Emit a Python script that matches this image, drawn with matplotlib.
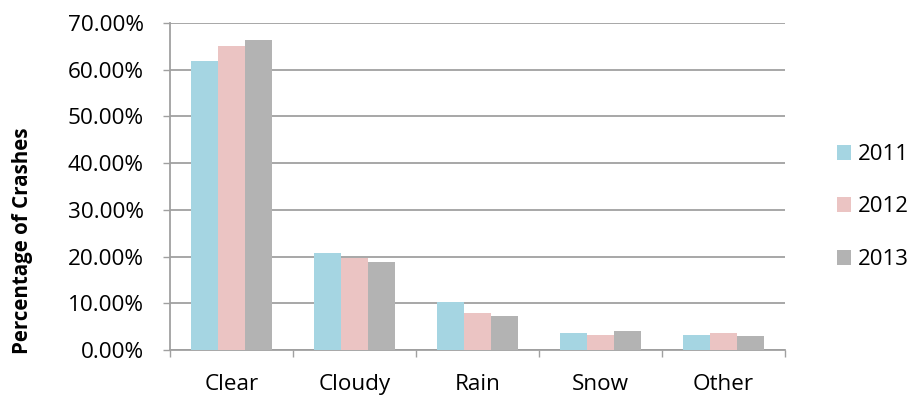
import matplotlib
matplotlib.use("Agg")
import matplotlib.pyplot as plt
import numpy as np
from matplotlib.ticker import FuncFormatter, FixedLocator

categories = ["Clear", "Cloudy", "Rain", "Snow", "Other"]
years = ["2011", "2012", "2013"]
pct_2011 = [61.8, 20.7, 10.2, 3.6, 3.3]
pct_2012 = [65.0, 19.8, 8.0, 3.3, 3.6]
pct_2013 = [66.3, 18.9, 7.3, 4.1, 3.0]
y_ticks = [0, 10, 20, 30, 40, 50, 60, 70]

colors = ["#A5D5E2", "#EBC4C3", "#B3B3B3"]
axis_gray = "#A0A0A0"
font = ["Open Sans", "DejaVu Sans"]
plt.rcParams["font.family"] = font

fig = plt.figure(figsize=(9.11, 3.96), dpi=100)
ax = fig.add_axes([170 / 911, 1 - 350 / 396, 615 / 911, 327 / 396])

x = np.arange(len(categories))
width = 0.222
series = [pct_2011, pct_2012, pct_2013]
for i, (vals, yr, c) in enumerate(zip(series, years, colors)):
    ax.bar(x + (i - 1) * width, vals, width, color=c, label=yr, zorder=3,
           edgecolor="none")

ax.set_xlim(-0.5, len(categories) - 0.5)
ax.set_ylim(0, 70)
ax.set_yticks(y_ticks)
ax.yaxis.set_major_formatter(FuncFormatter(lambda v, p: f"{v:.2f}%"))
ax.grid(axis="y", color=axis_gray, linewidth=1.3, zorder=0)
ax.set_axisbelow(True)

# category labels at centres, tick marks at category boundaries
ax.set_xticks(x)
ax.set_xticklabels(categories)
ax.xaxis.set_minor_locator(FixedLocator(np.arange(-0.5, len(categories), 1.0)))
ax.tick_params(axis="x", which="major", length=0, pad=17, labelsize=16.2)
ax.tick_params(axis="x", which="minor", length=5, width=1, color=axis_gray,
               direction="out")
ax.tick_params(axis="y", which="major", length=5, width=1, color=axis_gray,
               direction="out", pad=14, labelsize=16.2)

for s in ["top", "right"]:
    ax.spines[s].set_visible(False)
for s in ["left", "bottom"]:
    ax.spines[s].set_color(axis_gray)
    ax.spines[s].set_linewidth(1.3)

fig.text(23 / 911, 1 - 241 / 396, "Percentage of Crashes", rotation=90,
         ha="center", va="center", fontsize=14.8, fontweight="bold")

fig.legend(loc="center left", bbox_to_anchor=(828 / 911, 1 - 207 / 396),
           frameon=False, fontsize=16, handlelength=0.65, handleheight=0.65,
           handletextpad=0.3, labelspacing=1.42, borderaxespad=0)

fig.savefig("out.png", dpi=100)
